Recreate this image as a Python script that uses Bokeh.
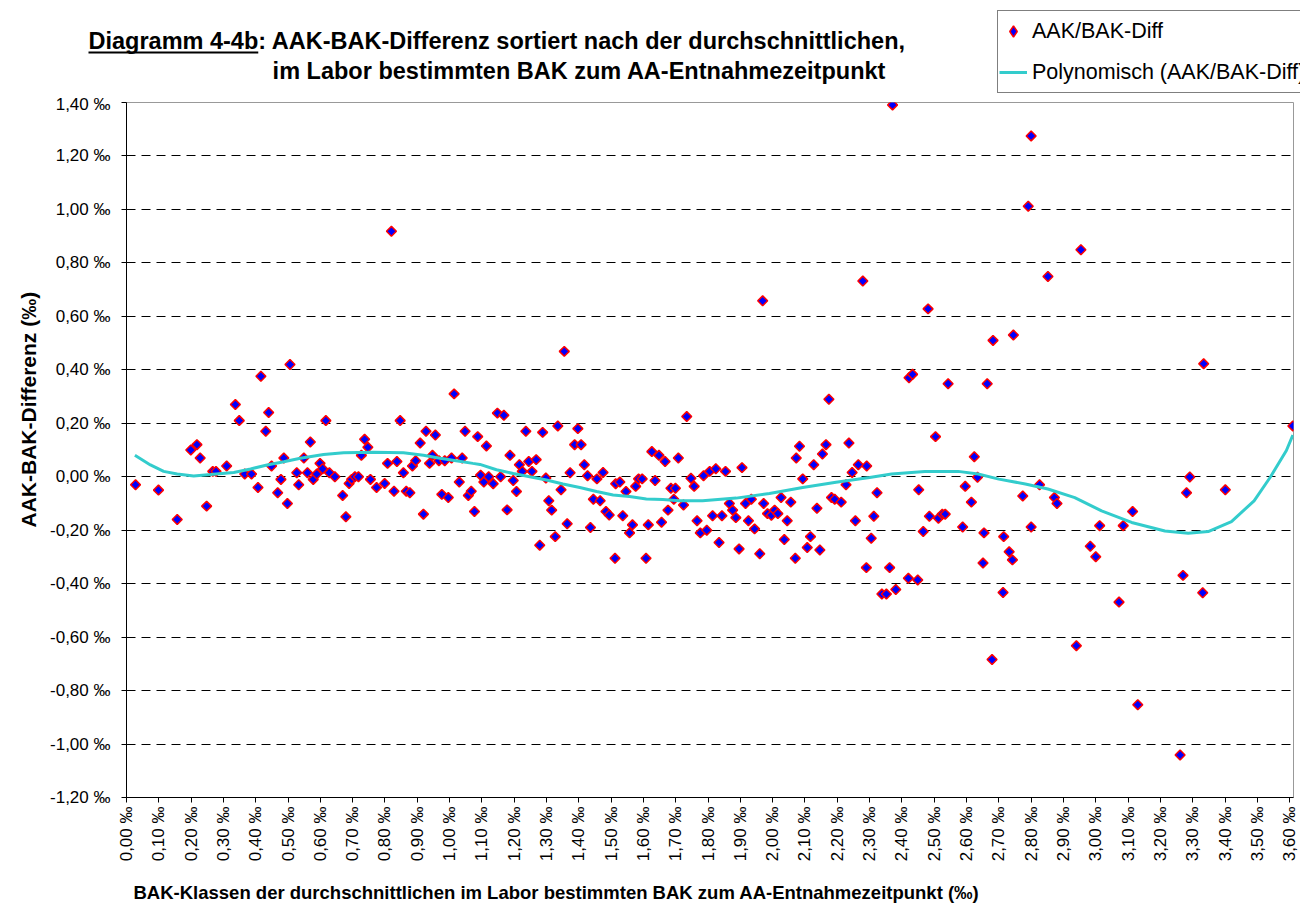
import numpy as np
from bokeh.plotting import figure
from bokeh.layouts import column
from bokeh.models import (Range1d, FixedTicker, CustomJSTickFormatter, Label,
                          Legend, LegendItem, Title)
from bokeh.embed import file_html
from bokeh.resources import INLINE

# ---------------- data ----------------
bak = [0.028, 0.099, 0.157, 0.199, 0.218, 0.228, 0.248, 0.267, 0.277, 0.31,
       0.337, 0.349, 0.366, 0.387, 0.407, 0.416, 0.431, 0.44, 0.449, 0.468,
       0.478, 0.487, 0.498, 0.506, 0.527, 0.533, 0.549, 0.56, 0.569, 0.578,
       0.589, 0.599, 0.607, 0.617, 0.628, 0.645, 0.669, 0.679, 0.689, 0.697,
       0.707, 0.718, 0.727, 0.737, 0.747, 0.755, 0.774, 0.799, 0.808, 0.82,
       0.828, 0.837, 0.847, 0.857, 0.866, 0.877, 0.885, 0.895, 0.909, 0.919,
       0.927, 0.938, 0.947, 0.956, 0.967, 0.976, 0.985, 0.996, 1.006, 1.014,
       1.03, 1.039, 1.048, 1.058, 1.067, 1.077, 1.087, 1.096, 1.106, 1.114,
       1.121, 1.135, 1.148, 1.158, 1.168, 1.178, 1.187, 1.197, 1.207, 1.216,
       1.225, 1.236, 1.245, 1.255, 1.268, 1.279, 1.288, 1.298, 1.307, 1.316,
       1.327, 1.335, 1.345, 1.355, 1.364, 1.373, 1.387, 1.397, 1.407, 1.417,
       1.427, 1.436, 1.445, 1.456, 1.466, 1.475, 1.484, 1.494, 1.512, 1.514,
       1.527, 1.536, 1.546, 1.557, 1.566, 1.576, 1.585, 1.596, 1.608, 1.615,
       1.626, 1.636, 1.648, 1.656, 1.667, 1.676, 1.685, 1.694, 1.699, 1.708,
       1.724, 1.734, 1.747, 1.757, 1.766, 1.776, 1.786, 1.796, 1.805, 1.814,
       1.824, 1.834, 1.843, 1.854, 1.866, 1.876, 1.886, 1.896, 1.905, 1.916,
       1.925, 1.934, 1.944, 1.96, 1.969, 1.972, 1.984, 1.996, 2.006, 2.016,
       2.026, 2.036, 2.045, 2.056, 2.07, 2.073, 2.083, 2.093, 2.107, 2.117,
       2.127, 2.137, 2.146, 2.154, 2.165, 2.174, 2.182, 2.192, 2.212, 2.227,
       2.236, 2.246, 2.256, 2.265, 2.279, 2.29, 2.291, 2.305, 2.313, 2.323,
       2.338, 2.352, 2.362, 2.371, 2.381, 2.42, 2.422, 2.433, 2.449, 2.452,
       2.466, 2.481, 2.485, 2.504, 2.513, 2.525, 2.534, 2.543, 2.588, 2.596,
       2.615, 2.624, 2.634, 2.651, 2.654, 2.664, 2.679, 2.682, 2.713, 2.715,
       2.732, 2.742, 2.745, 2.774, 2.791, 2.80, 2.80, 2.826, 2.852, 2.872,
       2.88, 2.94, 2.954, 2.983, 3.0, 3.012, 3.072, 3.085, 3.114, 3.13,
       3.261, 3.27, 3.281, 3.291, 3.331, 3.334, 3.401, 3.61]

diff = [-0.03, -0.05, -0.16, 0.10, 0.12, 0.07, -0.11, 0.02, 0.02, 0.04,
        0.27, 0.21, 0.01, 0.01, -0.04, 0.376, 0.17, 0.24, 0.04, -0.06,
        -0.01, 0.07, -0.10, 0.42, 0.015, -0.03, 0.07, 0.015, 0.13, -0.01,
        0.01, 0.05, 0.03, 0.21, 0.015, 0.0, -0.07, -0.15, -0.025, -0.01,
        0.0, 0.0, 0.08, 0.14, 0.11, -0.01, -0.04, -0.025, 0.05, 0.918,
        -0.054, 0.057, 0.21, 0.015, -0.054, -0.06, 0.04, 0.06, 0.126, -0.14,
        0.17, 0.05, 0.08, 0.156, 0.06, -0.066, 0.06, -0.078, 0.07, 0.31,
        -0.02, 0.07, 0.17, -0.07, -0.054, -0.13, 0.15, 0.006, -0.02, 0.115,
        0.0, -0.026, 0.238, 0.0, 0.23, -0.124, 0.08, -0.014, -0.055, 0.045,
        0.02, 0.17, 0.057, 0.02, 0.064, -0.256, 0.166, -0.005, -0.09, -0.125,
        -0.224, 0.19, -0.049, 0.469, -0.176, 0.015, 0.12, 0.18, 0.12, 0.045,
        0.004, -0.19, -0.084, -0.008, -0.09, 0.016, -0.13, -0.143, -0.305, -0.026,
        -0.02, -0.146, -0.055, -0.21, -0.18, -0.036, -0.008, -0.008, -0.305, -0.18,
        0.094, -0.014, 0.08, -0.17, 0.057, -0.125, -0.043, -0.084, -0.043, 0.07,
        -0.106, 0.225, -0.006, -0.036, -0.165, -0.21, 0.004, -0.2, 0.02, -0.146,
        0.03, -0.246, -0.146, 0.02, -0.1, -0.125, -0.153, -0.27, 0.034, -0.1,
        -0.165, -0.084, -0.195, -0.288, 0.658, -0.1, -0.138, -0.144, -0.125, -0.138,
        -0.078, -0.235, -0.165, -0.095, -0.305, 0.07, 0.114, -0.008, -0.265, -0.224,
        0.045, -0.118, -0.274, 0.085, 0.12, 0.29, -0.078, -0.084, -0.095, -0.03,
        0.126, 0.016, -0.165, 0.045, 0.732, -0.34, 0.04, -0.23, -0.148, -0.06,
        -0.439, -0.439, -0.34, 1.391, -0.422, -0.38, 0.37, 0.383, -0.386, -0.049,
        -0.205, 0.628, -0.148, 0.15, -0.155, -0.14, -0.14, 0.348, -0.188, -0.036,
        -0.095, 0.075, -0.002, -0.323, -0.21, 0.348, -0.684, 0.51, -0.433, -0.224,
        -0.281, -0.311, 0.53, -0.072, 1.012, 1.275, -0.188, -0.03, 0.749, -0.078,
        -0.1, -0.632, 0.849, -0.26, -0.299, -0.183, -0.469, -0.183, -0.13, -0.853,
        -1.041, -0.369, -0.06, -0.001, -0.434, 0.423, -0.049, 0.19]

trend_x = [0.026, 0.074, 0.115, 0.157, 0.208, 0.26, 0.332, 0.384, 0.435, 0.487,
           0.538, 0.61, 0.672, 0.765, 0.857, 0.919, 0.97, 1.02, 1.072, 1.094,
           1.145, 1.197, 1.248, 1.30, 1.351, 1.403, 1.455, 1.506, 1.557, 1.609,
           1.66, 1.712, 1.783, 1.887, 1.99, 2.093, 2.196, 2.30, 2.368, 2.471,
           2.574, 2.636, 2.70, 2.782, 2.852, 2.935, 3.018, 3.111, 3.214, 3.286,
           3.348, 3.42, 3.49, 3.54, 3.59, 3.61]
trend_y = [0.08, 0.044, 0.02, 0.01, 0.003, 0.008, 0.016, 0.029, 0.044, 0.056,
           0.069, 0.083, 0.09, 0.092, 0.09, 0.08, 0.069, 0.06, 0.05, 0.046,
           0.026, 0.012, 0.0, -0.012, -0.027, -0.04, -0.055, -0.068, -0.074, -0.083,
           -0.085, -0.09, -0.09, -0.08, -0.063, -0.04, -0.021, -0.003, 0.01, 0.02,
           0.02, 0.01, -0.009, -0.027, -0.046, -0.078, -0.128, -0.171, -0.203, -0.211,
           -0.205, -0.168, -0.09, -0.002, 0.098, 0.156]

x_ticks = [round(i * 0.1, 2) for i in range(37)]
y_ticks = [round(-1.2 + i * 0.2, 2) for i in range(14)]

series_label = "AAK/BAK-Diff"
trend_label = "Polynomisch (AAK/BAK-Diff)"
title_1 = "Diagramm 4-4b: AAK-BAK-Differenz sortiert nach der durchschnittlichen,"
title_2 = "im Labor bestimmten BAK zum AA-Entnahmezeitpunkt"
x_title = "BAK-Klassen der durchschnittlichen im Labor bestimmten BAK zum AA-Entnahmezeitpunkt (‰)"
y_title = "AAK-BAK-Differenz (‰)"

FONT = "Liberation Sans"
W = 1300
HDR_H = 94
P_H = 778
FTR_H = 40


def no_align(fig):
    try:
        fig.frame_align = False
    except AttributeError:
        pass


# ---------------- main plot ----------------
p = figure(width=W, height=P_H, output_backend="svg", toolbar_location=None,
           x_range=Range1d(0, 3.612), y_range=Range1d(-1.2, 1.4),
           min_border_left=126, min_border_right=7, min_border_top=8,
           min_border_bottom=75, background_fill_color="white",
           border_fill_color="white")
no_align(p)

p.outline_line_color = "#999999"
p.outline_line_width = 1
p.xgrid.visible = False
p.ygrid.ticker = FixedTicker(ticks=y_ticks)
p.ygrid.grid_line_color = "#000000"
p.ygrid.grid_line_dash = "9 6"
p.ygrid.grid_line_width = 1

fmt = CustomJSTickFormatter(code="return tick.toFixed(2).replace('.', ',') + ' \u2030';")
p.xaxis.ticker = FixedTicker(ticks=x_ticks)
p.yaxis.ticker = FixedTicker(ticks=y_ticks)
p.xaxis.formatter = fmt
p.yaxis.formatter = fmt
p.xaxis.major_label_orientation = np.pi / 2
for ax in (p.xaxis[0], p.yaxis[0]):
    ax.axis_line_color = "black"
    ax.axis_line_width = 1
    ax.major_tick_line_color = "black"
    ax.major_tick_out = 5
    ax.major_tick_in = 0
    ax.minor_tick_line_color = None
    ax.major_label_text_font = FONT
    ax.major_label_text_font_size = "17px"
    ax.major_label_text_color = "black"
p.xaxis.major_label_standoff = 4
p.yaxis.major_label_standoff = 11

r_sc = p.scatter(bak, diff, marker="square", angle=np.pi / 4, size=7,
                 fill_color="#0000FF", line_color="#FF0000", line_width=1.5)
r_ln = p.line(trend_x, trend_y, line_color="#33CCCC", line_width=3)

p.add_layout(Title(text=y_title, align="left", offset=270, standoff=16,
                   text_font=FONT, text_font_size="21px", text_font_style="bold",
                   text_color="black"), "left")

# ---------------- header (title + legend) ----------------
hdr = figure(width=W, height=HDR_H, output_backend="svg", toolbar_location=None,
             x_range=Range1d(0, W), y_range=Range1d(HDR_H, 0),
             x_axis_type=None, y_axis_type=None, min_border=0,
             background_fill_color="white", border_fill_color="white")
no_align(hdr)
hdr.grid.visible = False
hdr.outline_line_color = None

TFS = 23.5
t_x = 88
hdr.add_layout(Label(x=t_x, y=40, text=title_1, text_font=FONT, text_font_style="bold",
                     text_font_size=f"{TFS}px", text_baseline="middle", text_color="black"))
hdr.add_layout(Label(x=t_x + 7.835 * TFS, y=70, text=title_2, text_font=FONT,
                     text_font_style="bold", text_font_size=f"{TFS}px",
                     text_baseline="middle", text_color="black"))
hdr.line([t_x, t_x + 7.224 * TFS], [52, 52], line_color="black", line_width=2)

# legend proxies (placed outside the visible range)
lg_sc = hdr.scatter([-500], [-500], marker="diamond", size=12,
                    fill_color="#0000FF", line_color="#FF0000", line_width=1.5)
lg_ln = hdr.line([-500, -400], [-500, -500], line_color="#33CCCC", line_width=3)
legend = Legend(items=[LegendItem(label=series_label, renderers=[lg_sc]),
                       LegendItem(label=trend_label, renderers=[lg_ln])],
                location=(997, 1), border_line_color="black", border_line_width=1,
                background_fill_color="white", background_fill_alpha=1,
                label_text_font=FONT, label_text_font_size="21.5px",
                label_text_color="black",
                glyph_width=28, glyph_height=38, label_standoff=5,
                spacing=3, padding=1, margin=0)
hdr.add_layout(legend)

# ---------------- footer (x axis title) ----------------
ftr = figure(width=W, height=FTR_H, output_backend="svg", toolbar_location=None,
             x_range=Range1d(0, W), y_range=Range1d(FTR_H, 0),
             x_axis_type=None, y_axis_type=None, min_border=0,
             background_fill_color="white", border_fill_color="white")
no_align(ftr)
ftr.grid.visible = False
ftr.outline_line_color = None
ftr.add_layout(Label(x=133, y=20, text=x_title, text_font=FONT, text_font_style="bold",
                     text_font_size="18.5px", text_baseline="middle", text_color="black"))

layout = column(hdr, p, ftr, spacing=0)
open("out.html", "w").write(file_html(layout, INLINE))
